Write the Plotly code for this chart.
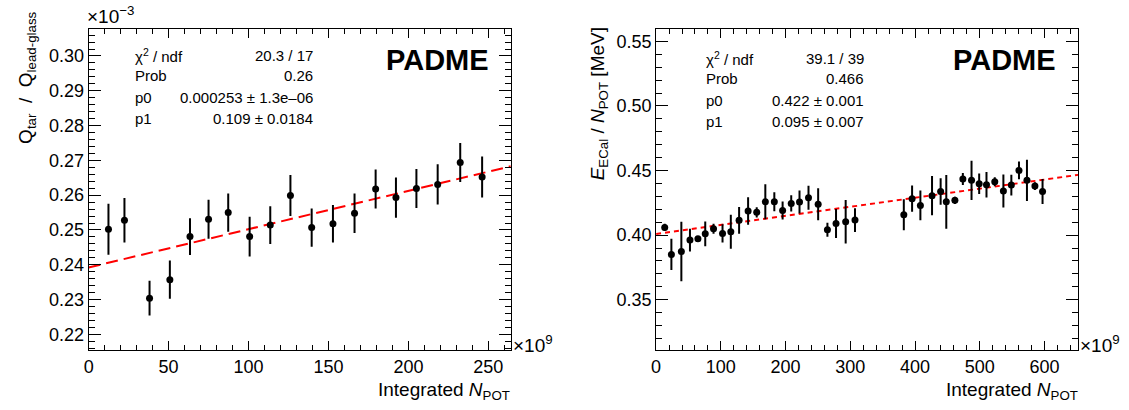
import plotly.graph_objects as go

# ---------------- data ----------------
# Left panel: Q_tar / Q_lead-glass (x10^-3) vs integrated N_POT (x10^9)
left_x = [12.4, 22.4, 38.1, 50.8, 63.4, 75.0, 87.3, 100.7, 113.6, 126.2,
          139.5, 152.8, 166.3, 179.5, 192.2, 205.0, 218.3, 232.4, 246.1]
left_y = [0.2502, 0.2528, 0.2304, 0.2357, 0.2481, 0.2531, 0.2550, 0.2481, 0.2514, 0.2599,
          0.2507, 0.2518, 0.2548, 0.2618, 0.2593, 0.2619, 0.2631, 0.2694, 0.2652]
left_err = [0.0073, 0.0064, 0.0050, 0.0055, 0.0053, 0.0056, 0.0055, 0.0057, 0.0054, 0.0059,
            0.0055, 0.0054, 0.0057, 0.0056, 0.0058, 0.0056, 0.0058, 0.0056, 0.0059]
left_fit_intercept = 0.2392
left_fit_slope = 0.0001102
left_xrange = [0, 264]
left_yrange = [0.2155, 0.3079]

# Right panel: E_ECal / N_POT [MeV] vs integrated N_POT (x10^9)
right_x = [13.3, 23.6, 39.0, 52.3, 64.6, 75.9, 88.7, 102.6, 115.4, 128.2,
           142.1, 155.4, 168.7, 182.6, 195.4, 208.7, 221.5, 235.4, 250.3, 264.6,
           277.9, 292.8, 307.2, 382.6, 395.4, 408.2, 426.2, 439.5, 448.2, 461.5,
           473.8, 487.2, 499.0, 510.3, 523.1, 536.4, 548.7, 560.5, 572.8, 585.1, 596.9]
right_y = [0.4059, 0.3850, 0.3873, 0.3961, 0.3971, 0.4010, 0.4049, 0.4013, 0.4026, 0.4114,
           0.4187, 0.4176, 0.4258, 0.4258, 0.4191, 0.4245, 0.4256, 0.4289, 0.4238, 0.4041,
           0.4090, 0.4103, 0.4116, 0.4158, 0.4282, 0.4230, 0.4305, 0.4338, 0.4258, 0.4269,
           0.4434, 0.4424, 0.4398, 0.4390, 0.4413, 0.4341, 0.4387, 0.4501, 0.4424, 0.4380, 0.4338]
right_err = [0.0028, 0.0121, 0.0230, 0.0089, 0.0022, 0.0096, 0.0039, 0.0071, 0.0132, 0.0103,
             0.0106, 0.0040, 0.0136, 0.0074, 0.0070, 0.0063, 0.0089, 0.0093, 0.0124, 0.0054,
             0.0112, 0.0169, 0.0092, 0.0120, 0.0102, 0.0116, 0.0152, 0.0103, 0.0208, 0.0028,
             0.0047, 0.0152, 0.0079, 0.0099, 0.0035, 0.0128, 0.0080, 0.0068, 0.0160, 0.0030, 0.0097]
right_fit_intercept = 0.4008
right_fit_slope = 0.0000703
right_xrange = [0, 652]
right_yrange = [0.311, 0.560]

left_stats = [("χ<sup>2</sup> / ndf", "20.3 / 17"), ("Prob", "0.26"),
              ("p0", "0.000253 ± 1.3e–06"), ("p1", "0.109 ± 0.0184")]
right_stats = [("χ<sup>2</sup> / ndf", "39.1 / 39"), ("Prob", "0.466"),
               ("p0", "0.422 ± 0.001"), ("p1", "0.095 ± 0.007")]

# ---------------- figure ----------------
W, H = 1129, 410
FONT = "Liberation Sans, Arial, Helvetica, sans-serif"


def px(x):
    return x / W


def py(y):
    return 1 - y / H


fig = go.Figure()

fig.add_trace(go.Scatter(
    x=[left_xrange[0], left_xrange[1]],
    y=[left_fit_intercept + left_fit_slope * left_xrange[0],
       left_fit_intercept + left_fit_slope * left_xrange[1]],
    mode="lines", line=dict(color="#ff0000", width=2, dash="12px,6px"),
    xaxis="x", yaxis="y", showlegend=False, hoverinfo="skip"))
fig.add_trace(go.Scatter(
    x=left_x, y=left_y, mode="markers",
    marker=dict(color="black", size=7),
    error_y=dict(type="data", array=left_err, visible=True, thickness=2, width=0, color="black"),
    xaxis="x", yaxis="y", showlegend=False))

fig.add_trace(go.Scatter(
    x=[right_xrange[0], right_xrange[1]],
    y=[right_fit_intercept + right_fit_slope * right_xrange[0],
       right_fit_intercept + right_fit_slope * right_xrange[1]],
    mode="lines", line=dict(color="#ff0000", width=2, dash="5px,4px"),
    xaxis="x2", yaxis="y2", showlegend=False, hoverinfo="skip"))
fig.add_trace(go.Scatter(
    x=right_x, y=right_y, mode="markers",
    marker=dict(color="black", size=7),
    error_y=dict(type="data", array=right_err, visible=True, thickness=2, width=0, color="black"),
    xaxis="x2", yaxis="y2", showlegend=False))

tickfont = dict(family=FONT, size=18, color="black")
common = dict(showgrid=False, zeroline=False, showline=True, linecolor="black", linewidth=1,
              mirror="ticks", ticks="inside", tickcolor="black", tickwidth=1, tickfont=tickfont)

ydom = [py(350), py(28.5)]
fig.update_layout(
    width=W, height=H, margin=dict(l=0, r=0, t=0, b=0),
    paper_bgcolor="white", plot_bgcolor="white", showlegend=False,
    xaxis=dict(domain=[px(84), px(508)], range=left_xrange, dtick=50, tick0=0, ticklen=9,
               minor=dict(dtick=10, ticklen=5, ticks="inside", tickcolor="black"),
               anchor="y", **common),
    yaxis=dict(domain=ydom, range=left_yrange, dtick=0.01, tick0=0, tickformat=".2f", ticklen=12,
               minor=dict(dtick=0.002, ticklen=6, ticks="inside", tickcolor="black"),
               anchor="x", **common),
    xaxis2=dict(domain=[px(654), px(1078)], range=right_xrange, dtick=100, tick0=0, ticklen=9,
                minor=dict(dtick=20, ticklen=5, ticks="inside", tickcolor="black"),
                anchor="y2", **common),
    yaxis2=dict(domain=ydom, range=right_yrange, dtick=0.05, tick0=0, tickformat=".2f", ticklen=12,
                minor=dict(dtick=0.01, ticklen=6, ticks="inside", tickcolor="black"),
                anchor="x2", **common),
)

ann = []


def add_text(x, y, text, size, xanchor="left", yanchor="middle", angle=0, bold=False):
    ann.append(dict(x=px(x), y=py(y), xref="paper", yref="paper", text=("<b>%s</b>" % text) if bold else text,
                    showarrow=False, xanchor=xanchor, yanchor=yanchor, textangle=angle,
                    font=dict(family=FONT, size=size, color="black")))


# stats boxes
for i, (lab, val) in enumerate(left_stats):
    yy = [55, 76, 97, 118][i]
    add_text(129, yy, lab, 15)
    add_text(311, yy, val, 15, xanchor="right")
for i, (lab, val) in enumerate(right_stats):
    yy = [58, 79, 100, 121][i]
    add_text(702, yy, lab, 15)
    add_text(865, yy, val, 15, xanchor="right")

# PADME labels
add_text(434, 60, "PADME", 29, xanchor="center", bold=True)
add_text(1004, 60, "PADME", 29, xanchor="center", bold=True)

# exponents
add_text(80, 15, "×10<sup>−3</sup>", 19)
add_text(508, 344, "×10<sup>9</sup>", 19)
add_text(1078, 344, "×10<sup>9</sup>", 19)

# axis titles
add_text(509, 391, "Integrated <i>N</i><sub>POT</sub>", 19, xanchor="right")
add_text(1080, 391, "Integrated <i>N</i><sub>POT</sub>", 19, xanchor="right")
add_text(22, 78, "Q<sub>tar</sub>&nbsp;&nbsp;/&nbsp;&nbsp;Q<sub>lead-glass</sub>", 19, xanchor="center", angle=-90)
add_text(597, 104, "<i>E</i><sub>ECal</sub> / <i>N</i><sub>POT</sub> [MeV]", 19, xanchor="center", angle=-90)

fig.update_layout(annotations=ann)

fig.write_html("out.html")
